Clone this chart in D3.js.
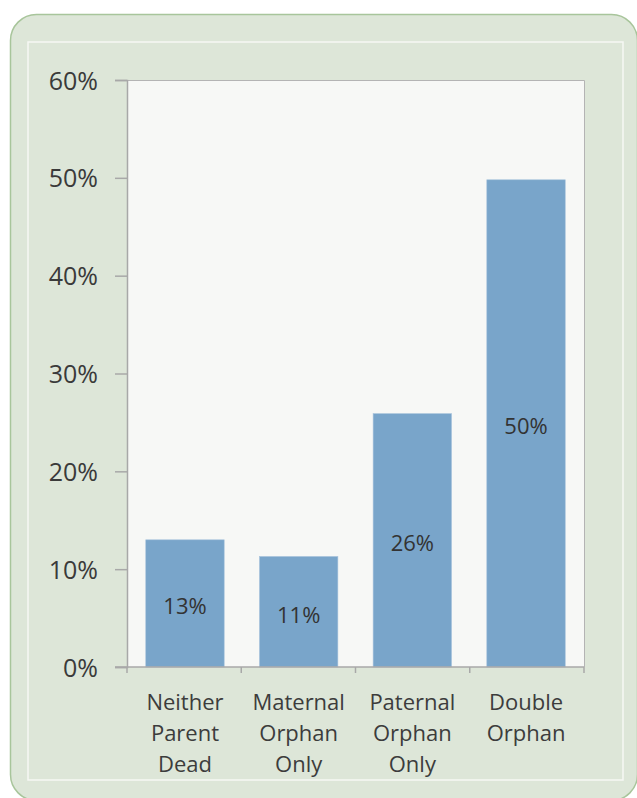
<!DOCTYPE html>
<html>
<head>
<meta charset="utf-8">
<script src="https://cdn.jsdelivr.net/npm/d3@7"></script>
<style>
  html, body { margin: 0; padding: 0; background: #ffffff; }
  svg { display: block; }
  text { font-family: "Open Sans", "Noto Sans", sans-serif; }
</style>
</head>
<body>
<svg id="chart" width="637" height="798"></svg>
<script>
const categories = [["Neither", "Parent", "Dead"], ["Maternal", "Orphan", "Only"], ["Paternal", "Orphan", "Only"], ["Double", "Orphan"]];
const values = [0.130, 0.113, 0.259, 0.498];
const valueLabels = ["13%", "11%", "26%", "50%"];
const yTicks = [0, 0.1, 0.2, 0.3, 0.4, 0.5, 0.6];

(function () {
const svg = d3.select("#chart");

// outer frame
svg.append("rect")
  .attr("x", 10.5).attr("y", 14.5).attr("width", 627).attr("height", 786)
  .attr("rx", 26).attr("ry", 26)
  .attr("fill", "#dde6d8").attr("stroke", "#a8c59b").attr("stroke-width", 1.5);
svg.append("rect")
  .attr("x", 28).attr("y", 42).attr("width", 595).attr("height", 738)
  .attr("fill", "none").attr("stroke", "#f6f8f4").attr("stroke-width", 1.5);

const pL = 127, pR = 584, pT = 80, pB = 667;
const x = d3.scaleBand().domain(d3.range(categories.length)).range([pL, pR]).paddingInner(0.31).paddingOuter(0.165);
const y = d3.scaleLinear().domain([0, 0.6]).range([pB, pT]);

// plot area
svg.append("rect")
  .attr("x", pL).attr("y", pT).attr("width", pR - pL).attr("height", pB - pT)
  .attr("fill", "#f7f8f6");
svg.append("path")
  .attr("d", `M${pL},${pT + 0.5}H${pR + 0.5}V${pB}`)
  .attr("fill", "none").attr("stroke", "#b4b4b4").attr("stroke-width", 1);

// bars
svg.selectAll("rect.bar").data(values).enter().append("rect")
  .attr("class", "bar")
  .attr("x", (d, i) => x(i))
  .attr("width", x.bandwidth())
  .attr("y", d => y(d))
  .attr("height", d => y(0) - y(d))
  .attr("fill", "#79a5ca")
  .attr("stroke", "#a9c4dd").attr("stroke-width", 0.6);

// value labels
svg.selectAll("text.val").data(values).enter().append("text")
  .attr("class", "val")
  .attr("x", (d, i) => x(i) + x.bandwidth() / 2)
  .attr("y", d => (y(d) + y(0)) / 2 + 11)
  .attr("text-anchor", "middle")
  .attr("font-size", 22)
  .attr("fill", "#333333")
  .text((d, i) => valueLabels[i]);

// y axis
const yAxis = d3.axisLeft(y).tickValues(yTicks).tickFormat(d3.format(".0%")).tickSize(12).tickPadding(17);
const gy = svg.append("g").attr("transform", `translate(${pL},0)`).call(yAxis);
gy.select(".domain").attr("stroke", "#a8a8a8").attr("stroke-width", 1.5);
gy.selectAll(".tick line").attr("stroke", "#a8a8a8").attr("stroke-width", 1.5);
gy.selectAll(".tick text").attr("font-size", 25).attr("fill", "#3a3a3a")
  .attr("font-family", "'Open Sans', sans-serif").attr("dy", "0.36em");

// x axis
const xOuter = d3.scaleLinear().domain([0, categories.length]).range([pL, pR]);
const gx = svg.append("g").attr("transform", `translate(0,${pB})`);
gx.append("line").attr("x1", pL - 12).attr("x2", pR).attr("y1", 0).attr("y2", 0)
  .attr("stroke", "#a8a8a8").attr("stroke-width", 1.5);
gx.selectAll("line.tk").data(d3.range(categories.length + 1)).enter().append("line")
  .attr("class", "tk")
  .attr("x1", d => xOuter(d)).attr("x2", d => xOuter(d))
  .attr("y1", 0).attr("y2", 6)
  .attr("stroke", "#a8a8a8").attr("stroke-width", 1.5);

// category labels
categories.forEach((lines, i) => {
  const t = svg.append("text")
    .attr("x", x(i) + x.bandwidth() / 2)
    .attr("y", 710)
    .attr("text-anchor", "middle")
    .attr("font-size", 22)
    .attr("fill", "#3c3c3c");
  lines.forEach((ln, j) => {
    t.append("tspan").attr("x", x(i) + x.bandwidth() / 2).attr("dy", j === 0 ? 0 : 31).text(ln);
  });
});
})();
</script>
</body>
</html>
